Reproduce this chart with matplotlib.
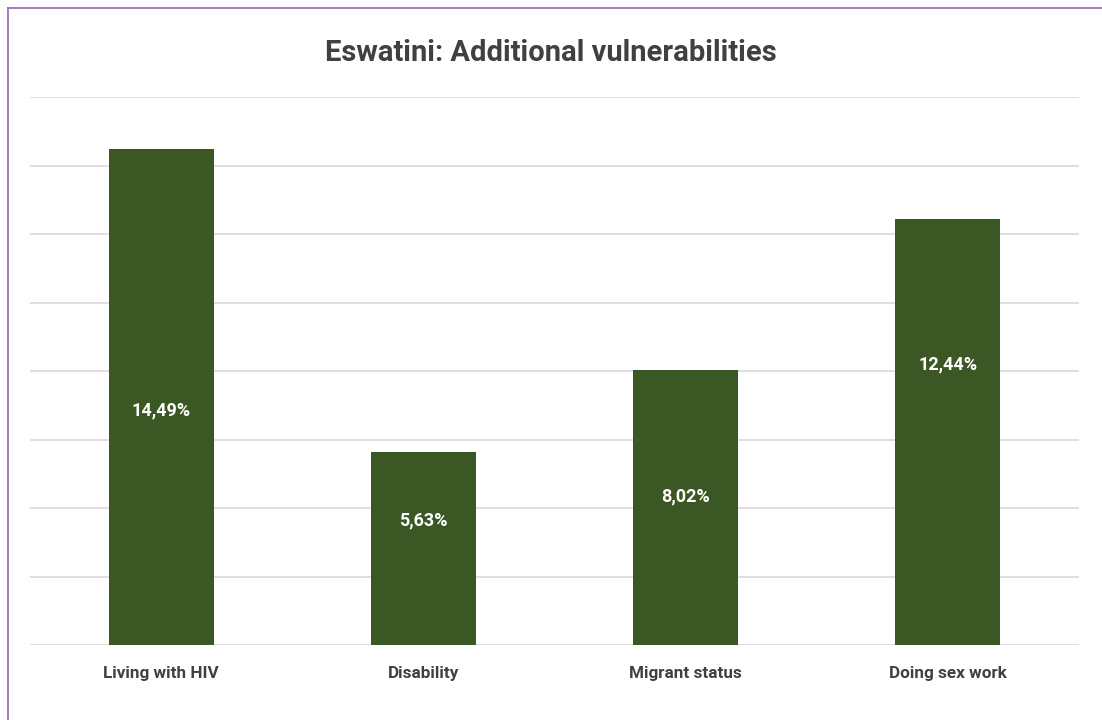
import matplotlib
matplotlib.use('Agg')
import matplotlib.pyplot as plt
from matplotlib.lines import Line2D

# Werte
categories = ['Living with HIV', 'Disability', 'Migrant status', 'Doing sex work']
shares = [14.49, 5.63, 8.02, 12.44]
value_labels = ['14,49%', '5,63%', '8,02%', '12,44%']
label_heights = [6.84, 3.65, 4.33, 8.19]   # wo die Prozentangaben stehen

bar_color = '#3b5724'
text_color = '#404040'
grid_color = '#d9d9d9'

plt.rcParams['font.family'] = ['Roboto', 'DejaVu Sans']

fig = plt.figure(figsize=(11.02, 7.2), dpi=100)
ax = fig.add_axes([30/1102, 1 - 645/720, 1049/1102, (645 - 97)/720])

x = range(len(categories))
ax.bar(x, shares, width=0.4, color=bar_color, zorder=3)
ax.set_xlim(-0.5, len(categories) - 0.5)
ax.set_ylim(0, 16)
ax.set_yticks(range(0, 17, 2))
ax.yaxis.grid(True, color=grid_color, linewidth=1.2, zorder=0)
ax.tick_params(axis='y', length=0, labelleft=False)
ax.tick_params(axis='x', length=0, pad=15)
ax.set_xticks(list(x))
ax.set_xticklabels(categories, fontsize=12.3, fontweight='bold', color=text_color)
for s in ax.spines.values():
    s.set_visible(False)

for i, (lab, h) in enumerate(zip(value_labels, label_heights)):
    ax.text(i, h, lab, ha='center', va='center', color='white',
            fontsize=13, fontweight='bold', zorder=4)

fig.text(0.5, 1 - 53/720, 'Eswatini: Additional vulnerabilities', ha='center', va='center',
         fontsize=21, fontweight='bold', color=text_color)

# Rahmen oben und links
fig.add_artist(Line2D([8/1102, 1], [1 - 8/720, 1 - 8/720], transform=fig.transFigure,
                      color='#9b63b3', linewidth=1.2))
fig.add_artist(Line2D([8/1102, 8/1102], [0, 1 - 8/720], transform=fig.transFigure,
                      color='#9b63b3', linewidth=1.2))

fig.savefig('out.png', dpi=100)
